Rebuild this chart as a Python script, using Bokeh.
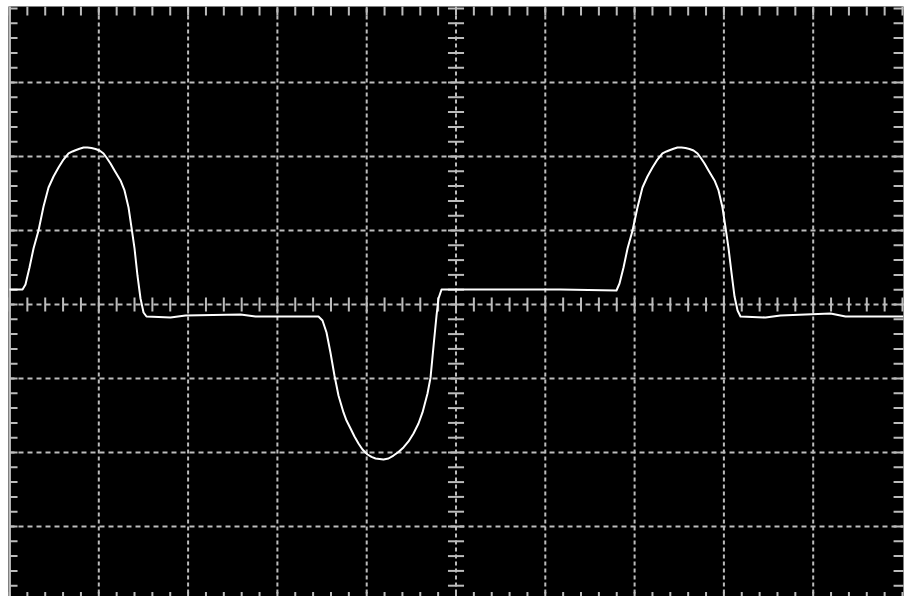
import numpy as np
from bokeh.plotting import figure
from bokeh.models import Range1d
from bokeh.embed import file_html
from bokeh.resources import INLINE

# Trace: time and voltage in graticule divisions
time_div = [0.000, 0.146, 0.179, 0.224, 0.269, 0.325, 0.381, 0.437, 0.493, 0.549,
            0.605, 0.661, 0.705, 0.739, 0.784, 0.829, 0.873, 0.918, 0.963, 1.008,
            1.053, 1.086, 1.131, 1.176, 1.243, 1.288, 1.333, 1.366, 1.400, 1.433,
            1.467, 1.501, 1.534, 1.803, 1.971, 2.587, 2.755, 3.460, 3.505, 3.550,
            3.594, 3.639, 3.684, 3.740, 3.774, 3.819, 3.863, 3.908, 3.953, 4.009,
            4.054, 4.099, 4.188, 4.244, 4.300, 4.356, 4.412, 4.468, 4.524, 4.580,
            4.625, 4.681, 4.715, 4.749, 4.782, 4.804, 4.838, 6.170, 6.797, 6.831,
            6.876, 6.921, 6.977, 7.032, 7.088, 7.144, 7.200, 7.256, 7.312, 7.357,
            7.391, 7.436, 7.480, 7.525, 7.570, 7.615, 7.660, 7.705, 7.738, 7.783,
            7.828, 7.895, 7.940, 7.984, 8.018, 8.052, 8.085, 8.119, 8.153, 8.186,
            8.466, 8.634, 9.194, 9.362, 10.011]
volt_div = [0.203, 0.203, 0.270, 0.500, 0.757, 1.000, 1.324, 1.581, 1.730, 1.851,
            1.959, 2.041, 2.068, 2.085, 2.105, 2.122, 2.122, 2.115, 2.101, 2.081,
            2.041, 1.986, 1.905, 1.811, 1.676, 1.541, 1.311, 1.041, 0.757, 0.392,
            0.081, -0.108, -0.162, -0.176, -0.149, -0.135, -0.162, -0.162, -0.216, -0.378,
            -0.649, -0.959, -1.230, -1.459, -1.568, -1.676, -1.784, -1.878, -1.959, -2.027,
            -2.059, -2.081, -2.095, -2.081, -2.041, -1.993, -1.932, -1.851, -1.743, -1.608,
            -1.459, -1.203, -0.986, -0.554, -0.149, 0.081, 0.203, 0.203, 0.189, 0.284,
            0.500, 0.757, 1.000, 1.311, 1.581, 1.730, 1.851, 1.959, 2.041, 2.068,
            2.085, 2.105, 2.122, 2.122, 2.115, 2.101, 2.081, 2.041, 1.986, 1.905,
            1.811, 1.676, 1.541, 1.311, 1.041, 0.757, 0.432, 0.108, -0.081, -0.162,
            -0.176, -0.149, -0.122, -0.162, -0.162]

# Graticule
x_major = [1, 2, 3, 4, 5, 6, 7, 8, 9]
y_major = [-3, -2, -1, 0, 1, 2, 3]
x_minor = np.round(np.arange(0, 10.001, 0.2), 3)
y_minor = np.round(np.arange(-4, 4.001, 0.2), 3)

GRID = "#bcbcbc"

p = figure(width=909, height=596, output_backend="svg", toolbar_location=None,
           x_range=Range1d(-0.0112, 10.0112), y_range=Range1d(-3.946, 4.027),
           min_border_left=8, min_border_top=6, min_border_right=6, min_border_bottom=0,
           background_fill_color="black", border_fill_color="white")
p.axis.visible = False
p.grid.visible = False
p.outline_line_color = None

# dashed major grid
p.segment(x0=x_major, y0=[-4] * len(x_major), x1=x_major, y1=[4.03] * len(x_major),
          line_color=GRID, line_width=2, line_dash="4 3")
p.segment(x0=[0] * len(y_major), y0=y_major, x1=[10.02] * len(y_major), y1=y_major,
          line_color=GRID, line_width=2, line_dash="5 4")

# left border
p.segment(x0=[0.005], y0=[-4], x1=[0.005], y1=[4.03], line_color=GRID, line_width=2)

# minor ticks on centre axes
p.segment(x0=[4.91] * len(y_minor), y0=y_minor, x1=[5.09] * len(y_minor), y1=y_minor,
          line_color=GRID, line_width=2)
p.segment(x0=x_minor, y0=[-0.095] * len(x_minor), x1=x_minor, y1=[0.095] * len(x_minor),
          line_color=GRID, line_width=2)

# border ticks
p.segment(x0=[0] * len(y_minor), y0=y_minor, x1=[0.09] * len(y_minor), y1=y_minor,
          line_color=GRID, line_width=2)
p.segment(x0=[9.9] * len(y_minor), y0=y_minor, x1=[10.02] * len(y_minor), y1=y_minor,
          line_color=GRID, line_width=2)
p.segment(x0=x_minor, y0=[4.03] * len(x_minor), x1=x_minor, y1=[3.905] * len(x_minor),
          line_color=GRID, line_width=2)
p.segment(x0=x_minor, y0=[-4] * len(x_minor), x1=x_minor, y1=[-3.885] * len(x_minor),
          line_color=GRID, line_width=2)

# trace
p.line(time_div, volt_div, line_color="white", line_width=2, line_join="round")

open("out.html", "w").write(file_html(p, INLINE))
